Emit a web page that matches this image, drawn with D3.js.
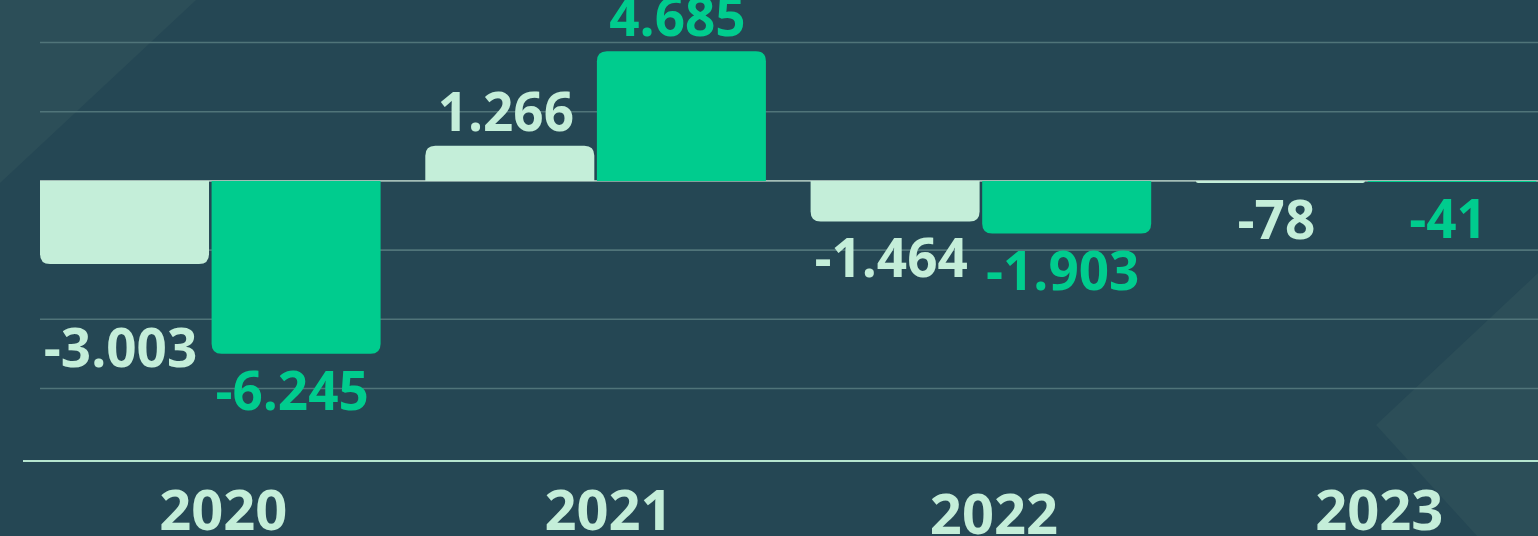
<!DOCTYPE html>
<html>
<head>
<meta charset="utf-8">
<script src="https://cdn.jsdelivr.net/npm/d3@7"></script>
<style>
    body { margin: 0; background: #254754; overflow: hidden; }
    #chart { width: 1538px; height: 536px; }
    text { font-family: "Open Sans", "Noto Sans", sans-serif; font-weight: 700; }
</style>
</head>
<body>
<div id="chart"></div>
<script>
/* * * * * * * * * * * * * *
*        GroupedBarVis     *
* * * * * * * * * * * * * */

// chart data
const years = ["2020", "2021", "2022", "2023"];
const seriesKeys = ["light", "green"];
const valuesLight = [-3003, 1266, -1464, -78];
const valuesGreen = [-6245, 4685, -1903, -41];
const gridTicks = [-7500, -5000, -2500, 2500, 5000];

// small manual nudges copied from the original layout
const labelNudge = {"-3003": 47};
const yearNudge = {"2022": 4};

const deFormat = d3.formatLocale({decimal: ",", thousands: ".", grouping: [3], currency: ["", "€"], minus: "-"}).format(",d");

class GroupedBarVis {

    constructor(parentElement, years) {
        this.parentElement = parentElement;
        this.years = years;
        this.rows = years.map((y, i) => ({year: y, light: valuesLight[i], green: valuesGreen[i]}));

        this.initVis()
    }

    initVis() {
        let vis = this;

        vis.width = 1538;
        vis.height = 536;
        vis.colors = {light: "#c4eed9", green: "#00cc8e"};

        vis.svg = d3.select("#" + vis.parentElement).append("svg")
            .attr("width", vis.width)
            .attr("height", vis.height);

        // background
        vis.svg.append("rect")
            .attr("width", vis.width)
            .attr("height", vis.height)
            .attr("fill", "#254754");

        vis.svg.append("path")
            .attr("d", "M0,0 L196,0 L0,183 Z")
            .attr("fill", "#2c4e58");

        vis.svg.append("path")
            .attr("d", "M1538,273 L1376,425 L1477,536 L1538,536 Z")
            .attr("fill", "#2c4e58");

        // scales
        vis.x0 = d3.scaleBand()
            .domain(vis.years)
            .range([40, 1536.5])
            .paddingInner(0.116)
            .paddingOuter(0);

        vis.x1 = d3.scaleBand()
            .domain(seriesKeys)
            .range([0, vis.x0.bandwidth()])
            .paddingInner(0.015);

        vis.y = d3.scaleLinear()
            .domain([-7500, 5000])
            .range([388.5, 42.5]);

        // grid
        vis.svg.append("g")
            .attr("class", "grid")
            .selectAll("line")
            .data(gridTicks)
            .enter()
            .append("line")
            .attr("x1", 40)
            .attr("x2", vis.width)
            .attr("y1", d => vis.y(d))
            .attr("y2", d => vis.y(d))
            .attr("stroke", "#507479")
            .attr("stroke-width", 1.6);

        // zero line
        vis.svg.append("line")
            .attr("x1", 40)
            .attr("x2", vis.width)
            .attr("y1", vis.y(0))
            .attr("y2", vis.y(0))
            .attr("stroke", "#a3bdb6")
            .attr("stroke-width", 1.6);

        // bars
        vis.groups = vis.svg.append("g")
            .selectAll("g")
            .data(vis.rows)
            .enter()
            .append("g")
            .attr("transform", d => "translate(" + vis.x0(d.year) + ",0)");

        vis.groups.selectAll("path")
            .data(d => seriesKeys.map(k => ({key: k, value: d[k]})))
            .enter()
            .append("path")
            .attr("d", d => vis.barPath(vis.x1(d.key), vis.x1.bandwidth(), d.value))
            .attr("fill", d => vis.colors[d.key]);

        vis.groups.selectAll("text")
            .data(d => seriesKeys.map(k => ({key: k, value: d[k]})))
            .enter()
            .append("text")
            .attr("x", d => vis.x1(d.key) + vis.x1.bandwidth() / 2 - 4)
            .attr("y", d => d.value >= 0 ? vis.y(d.value) - 15 : vis.y(d.value) + 56 + (labelNudge[d.value] || 0))
            .attr("text-anchor", "middle")
            .attr("font-size", 53)
            .attr("fill", d => vis.colors[d.key])
            .text(d => deFormat(d.value));

        // bottom axis
        vis.svg.append("line")
            .attr("x1", 23)
            .attr("x2", vis.width)
            .attr("y1", 461)
            .attr("y2", 461)
            .attr("stroke", "#b6e5cf")
            .attr("stroke-width", 2);

        vis.svg.append("g")
            .selectAll("text")
            .data(vis.years)
            .enter()
            .append("text")
            .attr("x", d => vis.x0(d) + vis.x0.bandwidth() / 2 + 13)
            .attr("y", d => 530 + (yearNudge[d] || 0))
            .attr("text-anchor", "middle")
            .attr("font-size", 56)
            .attr("fill", vis.colors.light)
            .text(d => d);
    }

    // bar with rounded corners on the end away from zero
    barPath(x, w, value) {
        let vis = this;
        let y0 = vis.y(0);
        let y1 = vis.y(value);
        let h = Math.abs(y1 - y0);
        let r = Math.min(10, h, w / 2);
        if (value >= 0) {
            return "M" + x + "," + y0 +
                "V" + (y1 + r) +
                "Q" + x + "," + y1 + " " + (x + r) + "," + y1 +
                "H" + (x + w - r) +
                "Q" + (x + w) + "," + y1 + " " + (x + w) + "," + (y1 + r) +
                "V" + y0 + "Z";
        }
        return "M" + x + "," + y0 +
            "V" + (y1 - r) +
            "Q" + x + "," + y1 + " " + (x + r) + "," + y1 +
            "H" + (x + w - r) +
            "Q" + (x + w) + "," + y1 + " " + (x + w) + "," + (y1 - r) +
            "V" + y0 + "Z";
    }
}

new GroupedBarVis("chart", years);
</script>
</body>
</html>
